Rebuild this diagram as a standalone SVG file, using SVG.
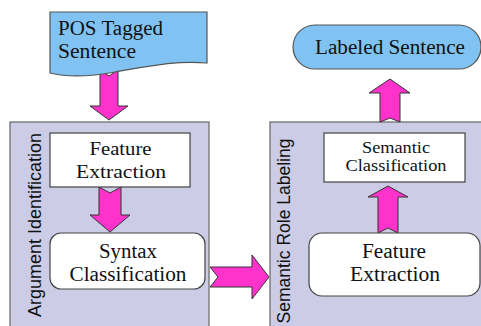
<svg xmlns="http://www.w3.org/2000/svg" width="481" height="326" viewBox="0 0 481 326">
<style>
.panel{fill:#CCCCE6;stroke:#666;stroke-width:1.2}
.box{fill:#fff;stroke:#444;stroke-width:1.2}
.blue{fill:#80C3F2;stroke:#555;stroke-width:1.2}
.arrow{fill:#FF33CC;stroke:#333;stroke-width:1}
text{fill:#111}
.s{font-family:'Liberation Serif','DejaVu Serif',serif}
.a{font-family:'Liberation Sans','DejaVu Sans',sans-serif}
</style>
<rect width="481" height="326" fill="#fff"/>
<g id="panel-argument">
<rect class="panel" x="10" y="122" width="199" height="210"/>
<text class="a" font-size="17.5" text-anchor="middle" transform="translate(41,225) rotate(-90)" textLength="184" lengthAdjust="spacingAndGlyphs">Argument Identification</text>
</g>
<g id="panel-srl">
<rect class="panel" x="270" y="122" width="220" height="210"/>
<text class="a" font-size="17.5" text-anchor="middle" transform="translate(290,231) rotate(-90)" textLength="185" lengthAdjust="spacingAndGlyphs">Semantic Role Labeling</text>
</g>
<g id="connectors">
<path class="arrow" d="M100,70 L109,76 L118,70 L118,106 L128,106 L109,120 L90,106 L100,106 Z"/>
<path class="arrow" d="M99,187 L110,193 L121,187 L121,215 L130,215 L110,232 L90,215 L99,215 Z"/>
<path class="arrow" d="M210,267 L218,277 L210,287 L252,287 L252,299 L269,277 L252,255 L252,267 Z"/>
<path class="arrow" d="M378,233 L388,228 L398,233 L398,197 L408,197 L388,186 L368,197 L378,197 Z"/>
<path class="arrow" d="M380,122 L390,118 L400,122 L400,93 L410,93 L390,79 L369,93 L380,93 Z"/>
</g>
<g id="pos-tagged-sentence">
<path class="blue" d="M50,12 H207 V63 C175,60 145,67 115,72 C88,77 66,77 50,73 Z"/>
<text class="s" x="58" y="35" font-size="20" textLength="105" lengthAdjust="spacingAndGlyphs">POS Tagged</text>
<text class="s" x="58" y="58" font-size="20" textLength="78" lengthAdjust="spacingAndGlyphs">Sentence</text>
</g>
<g id="feature-extraction-1" text-anchor="middle">
<rect class="box" x="50" y="133" width="140" height="54"/>
<text class="s" x="120.5" y="155" font-size="19.5" textLength="62" lengthAdjust="spacingAndGlyphs">Feature</text>
<text class="s" x="121" y="178" font-size="19.5" textLength="90" lengthAdjust="spacingAndGlyphs">Extraction</text>
</g>
<g id="syntax-classification" text-anchor="middle">
<rect class="box" x="50" y="233" width="155" height="56" rx="11"/>
<text class="s" x="128" y="258" font-size="20" textLength="58" lengthAdjust="spacingAndGlyphs">Syntax</text>
<text class="s" x="128" y="281" font-size="20" textLength="117" lengthAdjust="spacingAndGlyphs">Classification</text>
</g>
<g id="semantic-classification" text-anchor="middle">
<rect class="box" x="324" y="133" width="141" height="49"/>
<text class="s" x="396" y="153" font-size="16.5" textLength="68" lengthAdjust="spacingAndGlyphs">Semantic</text>
<text class="s" x="396" y="171" font-size="16.5" textLength="101" lengthAdjust="spacingAndGlyphs">Classification</text>
</g>
<g id="feature-extraction-2" text-anchor="middle">
<rect class="box" x="309" y="233" width="171" height="63" rx="13"/>
<text class="s" x="394" y="258" font-size="20" textLength="64" lengthAdjust="spacingAndGlyphs">Feature</text>
<text class="s" x="395" y="281" font-size="20" textLength="90" lengthAdjust="spacingAndGlyphs">Extraction</text>
</g>
<g id="labeled-sentence" text-anchor="middle">
<rect class="blue" x="293" y="25" width="188" height="44" rx="22"/>
<text class="s" x="390" y="54" font-size="20" textLength="150" lengthAdjust="spacingAndGlyphs">Labeled Sentence</text>
</g>
</svg>
